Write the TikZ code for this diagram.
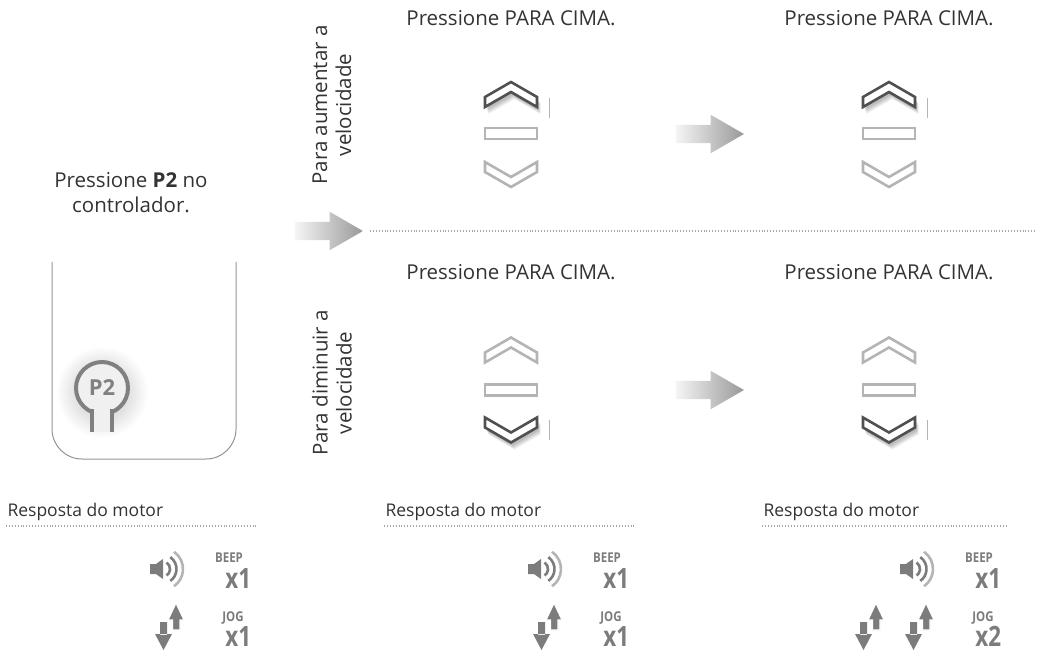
\documentclass[tikz,border=0pt]{standalone}
\usepackage{fontspec}
\setmainfont{Open Sans}
\usetikzlibrary{shapes.arrows}
\definecolor{inkgray}{HTML}{333333}
\definecolor{keydark}{HTML}{505050}
\definecolor{keylight}{HTML}{B4B4B4}
\definecolor{icongray}{HTML}{7C7C7C}
\tikzset{
  every node/.style={text=inkgray, font=\fontsize{20.5}{25}\selectfont},
  keyline/.style={line width=2.6pt, fill=white},
  dots/.style={draw=gray!70, line width=1.2pt, dash pattern=on 0.9pt off 2pt},
  grayarrow/.style={single arrow, draw=none, inner xsep=0pt, inner ysep=9pt, minimum height=68pt,
    minimum width=38pt, single arrow head extend=10pt, single arrow tip angle=60,
    left color=gray!8, right color=gray!80},
  tagtext/.style={text=icongray, font=\bfseries\fontsize{13.5}{13.5}\selectfont, xscale=0.85},
  tally/.style={text=icongray, font=\bfseries\fontsize{28}{28}\selectfont, xscale=0.8},
  upkey/.pic={\draw[keyline,draw=#1] (-26,2.5) -- (0,-12.5) -- (26,2.5) -- (26,12.5) -- (0,-2.5) -- (-26,12.5) -- cycle;},
  downkey/.pic={\draw[keyline,draw=#1] (-26,-12.5) -- (0,2.5) -- (26,-12.5) -- (26,-2.5) -- (0,12.5) -- (-26,-2.5) -- cycle;},
  midkey/.pic={\draw[keyline,draw=keylight] (-26,-5.5) rectangle (26,5.5);},
  upshade/.pic={\foreach \k in {1,...,5}{\fill[black,opacity=0.06,shift={(1+0.5*\k,2+\k)}] (-26,2.5) -- (0,-12.5) -- (26,2.5) -- (26,12.5) -- (0,-2.5) -- (-26,12.5) -- cycle;}},
  downshade/.pic={\foreach \k in {1,...,5}{\fill[black,opacity=0.06,shift={(1+0.5*\k,2+\k)}] (-26,-12.5) -- (0,2.5) -- (26,-12.5) -- (26,-2.5) -- (0,12.5) -- (-26,-2.5) -- cycle;}},
  beep/.pic={
    \fill[icongray] (-12,-5) rectangle (-6,5) (-6,-5) -- (1,-10) -- (1,10) -- (-6,5) -- cycle;
    \draw[icongray, line width=2.6pt] ([shift={(-55:8)}]0,0) arc[start angle=-55, end angle=55, radius=8];
    \draw[icongray, line width=2.6pt] ([shift={(-55:14.5)}]0,0) arc[start angle=-55, end angle=55, radius=14.5];
    \draw[keylight, line width=2.6pt] ([shift={(-55:21)}]0,0) arc[start angle=-55, end angle=55, radius=21];},
  jog/.pic={
    \fill[icongray] (-10,-5) rectangle (-3,8) (-15,7) -- (2,7) -- (-6.5,23) -- cycle;
    \filldraw[icongray, draw=white, line width=1.2pt] (2.5,3) -- (2.5,-7) -- (-2,-7) -- (6,-24) -- (14,-7) -- (10,-7) -- (10,3) -- cycle;}
}
\begin{document}
\begin{tikzpicture}[x=1pt, y=-1pt]
  \useasboundingbox (0,0) rectangle (1040,651);
  % controller
  \node[align=center] (intro) at (131,193) {Pressione \textbf{P2} no\\controlador.};
  \shade[inner color=gray!55, outer color=white] (102,392) circle (46);
  \draw[gray!85, line width=1pt, rounded corners=30pt] (52,262) -- (52,459) -- (236,459) -- (236,262);
  \fill[gray!12] (92,405) rectangle (112,432);
  \node[circle, draw=gray, line width=4pt, fill=gray!12, minimum size=52pt, inner sep=0pt,
        text=gray, font=\bfseries\fontsize{22}{22}\selectfont] (ptwo) at (102,388) {P2};
  \fill[gray!12] (94,404) rectangle (110,418);
  \draw[gray, line width=4pt] (92,409) -- (92,432) (112,409) -- (112,432);

  % arrows and divider
  \node[grayarrow] (goA) at (321,231) {};
  \draw[dots] (370,231) -- (1035,231);
  \node[grayarrow] (goB) at (702,134) {};
  \node[grayarrow] (goC) at (702,390) {};

  \node[rotate=90, align=center, font=\fontsize{20.5}{24}\selectfont] (upside) at (332,105) {Para aumentar a\\velocidade};
  \node[rotate=90, align=center, font=\fontsize{20.5}{24}\selectfont] (downside) at (332,383) {Para diminuir a\\velocidade};

  \node (stepA) at (511,18) {Pressione PARA CIMA.};
  \node (stepB) at (889,18) {Pressione PARA CIMA.};
  \node (stepC) at (511,272) {Pressione PARA CIMA.};
  \node (stepD) at (889,272) {Pressione PARA CIMA.};

  % keys
  \foreach \kx in {511,889}{
    \pic at (\kx,94.5) {upshade};
    \pic at (\kx,94.5) {upkey=keydark};
    \pic at (\kx,133.5) {midkey};
    \pic at (\kx,174.5) {downkey=keylight};
    \draw[keylight, line width=1pt] (\kx+38,98) -- (\kx+38,118);
    \pic at (\kx,350) {upkey=keylight};
    \pic at (\kx,390) {midkey};
    \pic at (\kx,430) {downshade};
    \pic at (\kx,430) {downkey=keydark};
    \draw[keylight, line width=1pt] (\kx+38,420) -- (\kx+38,440);
  }

  % motor response
  \foreach \tx/\ix/\jogs in {0/0/1, 378/378/1, 756/750/2}{
    \node[anchor=west, font=\fontsize{17.5}{20}\selectfont] (resp\tx) at (4+\tx,512) {Resposta do motor};
    \draw[dots] (6+\tx,526) -- (258+\ix,526);
    \pic at (\ix+162,569) {beep};
    \pic at (\ix+170,627) {jog};
    \node[tagtext] (beep\tx) at (\ix+229,558) {BEEP};
    \node[tally, anchor=east] (nb\tx) at (\ix+254,578) {x1};
    \node[tagtext] (jog\tx) at (\ix+233,618) {JOG};
    \node[tally, anchor=east] (nj\tx) at (\ix+254,636) {x\jogs};
  }
  \pic at (870,627) {jog};
  %\draw[help lines,step=20] (0,0) grid (1040,651);
\end{tikzpicture}
\end{document}
